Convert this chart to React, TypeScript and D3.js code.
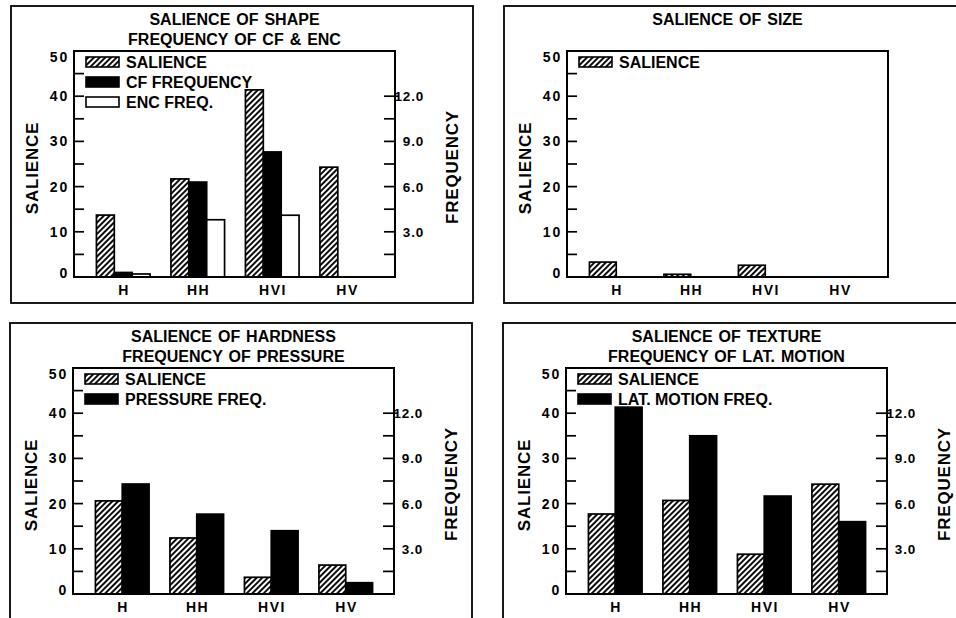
import * as d3 from 'd3';

// categories and values
const CATEGORIES = ['H', 'HH', 'HVI', 'HV'];

const SHAPE_SALIENCE = [13.7, 21.7, 41.4, 24.3];
const CF_FREQ = [0.3, 6.3, 8.3, 0];
const ENC_FREQ = [0.2, 3.8, 4.1, 0];

const SIZE_SALIENCE = [3.3, 0.6, 2.6, 0];

const HARDNESS_SALIENCE = [20.6, 12.4, 3.7, 6.4];
const PRESSURE_FREQ = [7.3, 5.3, 4.2, 0.75];

const TEXTURE_SALIENCE = [17.7, 20.7, 8.8, 24.3];
const LAT_MOTION_FREQ = [12.4, 10.5, 6.5, 4.8];

const SALIENCE_TICKS = [0, 10, 20, 30, 40, 50];
const SALIENCE_MINOR = [5, 10, 15, 20, 25, 30, 35, 40, 45];
const FREQ_TICKS = [3, 6, 9, 12];
const FREQ_MINOR = [1.5, 3, 4.5, 6, 7.5, 9, 10.5, 12];

const PLOT_W = 321;
const PLOT_H = 226;
const FONT = '"Liberation Sans", Arial, Helvetica, sans-serif';

type Series = { label: string; values: number[]; axis: 'sal' | 'freq'; fill: string };

type PanelProps = {
    left: number;
    top: number;
    title: string[];
    series: Series[];
    rightAxis: boolean;
    slots: number;
};

const Panel = ({ left, top, title, series, rightAxis, slots }: PanelProps) => {
    const right = left + PLOT_W;
    const bottom = top + PLOT_H;

    const y = d3.scaleLinear().domain([0, 50]).range([bottom, top]);
    const yF = d3.scaleLinear().domain([0, 15]).range([bottom, top]);

    const x0 = d3.scaleBand<string>()
        .domain(CATEGORIES)
        .range([left + 12, right - 11])
        .paddingInner(0.28)
        .paddingOuter(0.14);
    const x1 = d3.scaleBand<number>()
        .domain(d3.range(slots))
        .range([0, x0.bandwidth()]);

    const cx = (left + right) / 2;
    const cy = (top + bottom) / 2;

    return (
        <g>
            {/* outer frame */}
            <rect x={left - 63} y={top - 45} width={PLOT_W + 141} height={PLOT_H + 71}
                fill="none" stroke="black" strokeWidth={1.8} />

            {title.map((t, i) => (
                <text key={t} x={cx} y={top - 26 + i * 20} textAnchor="middle"
                    fontSize={16} fontWeight="bold" wordSpacing={1.5}>{t}</text>
            ))}

            {/* bars */}
            {series.map((s, si) => s.values.map((v, ci) => {
                const yy = s.axis === 'sal' ? y(v) : yF(v);
                if (v <= 0) return null;
                return (
                    <rect key={`${si}-${ci}`}
                        x={x0(CATEGORIES[ci])! + x1(si)!}
                        y={yy}
                        width={x1.bandwidth()}
                        height={bottom - yy}
                        fill={s.fill} stroke="black" strokeWidth={1.7} />
                );
            }))}

            {/* plot box */}
            <rect x={left} y={top} width={PLOT_W} height={PLOT_H} fill="none" stroke="black" strokeWidth={2} />

            {/* left axis */}
            {SALIENCE_MINOR.map(t => (
                <line key={t} x1={left} x2={left + 10} y1={y(t)} y2={y(t)} stroke="black" strokeWidth={1.7} />
            ))}
            {SALIENCE_TICKS.map(t => (
                <text key={t} x={left - 5} y={Math.min(Math.max(y(t) + 5, top + 11), bottom + 0.5)}
                    textAnchor="end" fontSize={14} fontWeight="bold" letterSpacing={1.8}>{t}</text>
            ))}
            <text transform={`translate(${left - 36},${cy + 4}) rotate(-90)`} textAnchor="middle"
                fontSize={17} fontWeight="bold" letterSpacing={0.8}>SALIENCE</text>

            {/* right axis */}
            {rightAxis && FREQ_MINOR.map(t => (
                <line key={t} x1={right - 11} x2={t === 12 ? right + 4 : right} y1={yF(t)} y2={yF(t)}
                    stroke="black" strokeWidth={1.7} />
            ))}
            {rightAxis && FREQ_TICKS.map(t => (
                <text key={t} x={right + 29} y={yF(t) + 5} textAnchor="end"
                    fontSize={13.5} fontWeight="bold" letterSpacing={0.8}>{t.toFixed(1)}</text>
            ))}
            {rightAxis && (
                <text transform={`translate(${right + 63},${cy + 3}) rotate(-90)`} textAnchor="middle"
                    fontSize={17} fontWeight="bold" letterSpacing={0.8}>FREQUENCY</text>
            )}

            {/* category labels */}
            {CATEGORIES.map(c => (
                <text key={c} x={x0(c)! + x0.bandwidth() / 2 + 0.75} y={bottom + 18} textAnchor="middle"
                    fontSize={14} fontWeight="bold" letterSpacing={1.5}>{c}</text>
            ))}

            {/* legend */}
            {series.map((s, i) => (
                <g key={s.label} transform={`translate(${left + 12},${top + 6 + i * 20})`}>
                    <rect width={33} height={10} fill={s.fill} stroke="black" strokeWidth={1.6} />
                    <text x={40} y={10.5} fontSize={16} fontWeight="bold">{s.label}</text>
                </g>
            ))}
        </g>
    );
};

export default function App() {
    const HATCH = 'url(#hatch)';
    return (
        <svg width={956} height={618} style={{ position: 'absolute', left: 0, top: 0, background: 'white' }}
            fontFamily={FONT}>
            <defs>
                <pattern id="hatch" patternUnits="userSpaceOnUse" width={4} height={4}
                    patternTransform="rotate(45)">
                    <rect width={4} height={4} fill="white" />
                    <line x1={2} y1={0} x2={2} y2={4} stroke="black" strokeWidth={1.9} />
                </pattern>
            </defs>
            <rect width={956} height={618} fill="white" />

            <Panel left={74} top={51} slots={3} rightAxis
                title={['SALIENCE OF SHAPE', 'FREQUENCY OF CF & ENC']}
                series={[
                    { label: 'SALIENCE', values: SHAPE_SALIENCE, axis: 'sal', fill: HATCH },
                    { label: 'CF FREQUENCY', values: CF_FREQ, axis: 'freq', fill: 'black' },
                    { label: 'ENC FREQ.', values: ENC_FREQ, axis: 'freq', fill: 'white' },
                ]} />

            <Panel left={567} top={51} slots={2} rightAxis={false}
                title={['SALIENCE OF SIZE']}
                series={[
                    { label: 'SALIENCE', values: SIZE_SALIENCE, axis: 'sal', fill: HATCH },
                ]} />

            <Panel left={73} top={368} slots={2} rightAxis
                title={['SALIENCE OF HARDNESS', 'FREQUENCY OF PRESSURE']}
                series={[
                    { label: 'SALIENCE', values: HARDNESS_SALIENCE, axis: 'sal', fill: HATCH },
                    { label: 'PRESSURE FREQ.', values: PRESSURE_FREQ, axis: 'freq', fill: 'black' },
                ]} />

            <Panel left={566} top={368} slots={2} rightAxis
                title={['SALIENCE OF TEXTURE', 'FREQUENCY OF LAT. MOTION']}
                series={[
                    { label: 'SALIENCE', values: TEXTURE_SALIENCE, axis: 'sal', fill: HATCH },
                    { label: 'LAT. MOTION FREQ.', values: LAT_MOTION_FREQ, axis: 'freq', fill: 'black' },
                ]} />
        </svg>
    );
}
